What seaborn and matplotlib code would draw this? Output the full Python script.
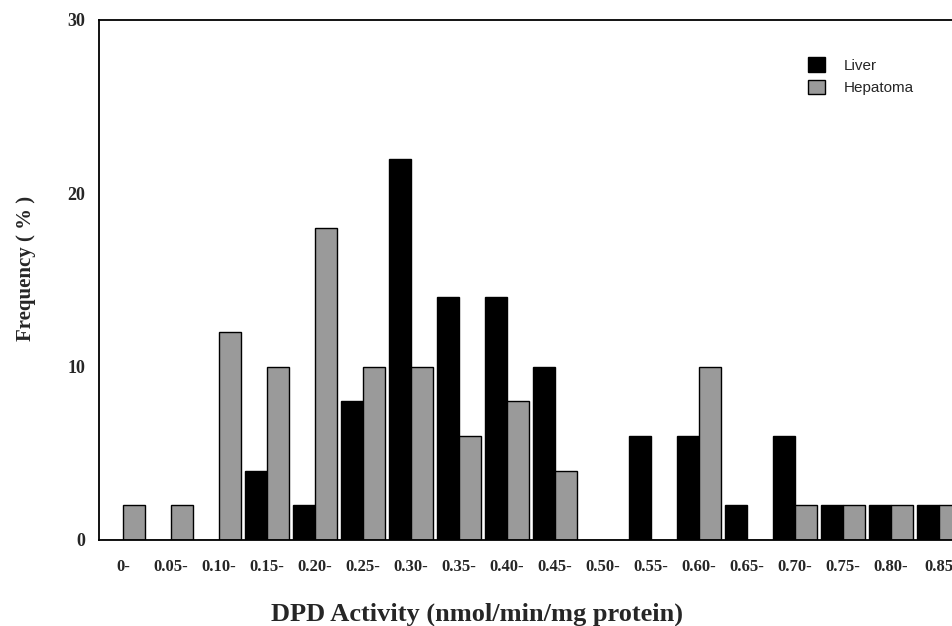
import matplotlib
matplotlib.use("Agg")
import matplotlib.pyplot as plt
import seaborn as sns
import pandas as pd
import numpy as np

# bins of DPD activity
categories = ["0-", "0.05-", "0.10-", "0.15-", "0.20-", "0.25-", "0.30-", "0.35-", "0.40-",
              "0.45-", "0.50-", "0.55-", "0.60-", "0.65-", "0.70-", "0.75-", "0.80-", "0.85"]
liver = [0, 0, 0, 4, 2, 8, 22, 14, 14, 10, 0, 6, 6, 2, 6, 2, 2, 2]
hepatoma = [2, 2, 12, 10, 18, 10, 10, 6, 8, 4, 0, 0, 10, 0, 2, 2, 2, 2]

df = pd.DataFrame({
    "bin": categories * 2,
    "freq": liver + hepatoma,
    "tissue": ["Liver"] * len(categories) + ["Hepatoma"] * len(categories),
})

sns.set_style("white")

fig = plt.figure(figsize=(9.53, 6.26), dpi=100)
# axes runs slightly past the right edge, the last bin is cut off like in the scan
ax = fig.add_axes([99 / 953, 86 / 626, (963 - 99) / 953, 520 / 626])

sns.barplot(data=df, x="bin", y="freq", hue="tissue", order=categories,
            hue_order=["Liver", "Hepatoma"], palette=["#000000", "#9a9a9a"],
            edgecolor="black", linewidth=1.0, width=0.9, ax=ax)

ax.set_xlim(-0.5, 17.5)
ax.set_ylim(0, 30)
ax.set_yticks([0, 10, 20, 30])
ax.set_yticks([5, 15, 25], minor=True)

# labels in the middle of each bin, tick marks at bin edges
ax.set_xticks(np.arange(len(categories)))
ax.set_xticklabels(categories, fontsize=12, fontweight="bold", family="Liberation Serif")
ax.set_xticks(np.arange(len(categories) + 1) - 0.5, minor=True)
ax.tick_params(axis="x", which="major", length=0, pad=14)
ax.tick_params(axis="x", which="minor", length=4, width=1.2, direction="out", color="black")
ax.tick_params(axis="y", which="major", length=6, width=1.2, direction="out", color="black", pad=4)
ax.tick_params(axis="y", which="minor", length=3, width=0.8, direction="out", color="#888888")
for t in ax.get_yticklabels():
    t.set_fontsize(13)
    t.set_fontweight("bold")
    t.set_family("Liberation Serif")

for side in ["left", "bottom", "top"]:
    ax.spines[side].set_color("black")
    ax.spines[side].set_linewidth(1.3)
ax.spines["right"].set_visible(False)

ax.set_xlabel("DPD Activity (nmol/min/mg protein)", fontsize=19, fontweight="bold",
              family="Liberation Serif")
ax.xaxis.set_label_coords((477 - 99) / 864, (540 - 603) / 520)
ax.set_ylabel("Frequency ( % )", fontsize=15, fontweight="bold",
              family="Liberation Serif")
ax.yaxis.set_label_coords((36 - 99) / 864, (540 - 268) / 520)

leg = ax.legend(loc="upper left", bbox_to_anchor=(0.805, 0.955), frameon=False,
                prop={"family": "Liberation Sans", "size": 11},
                handlelength=1.1, handleheight=1.1, labelspacing=0.45, handletextpad=1.2)

fig.savefig("out.png", dpi=100)
